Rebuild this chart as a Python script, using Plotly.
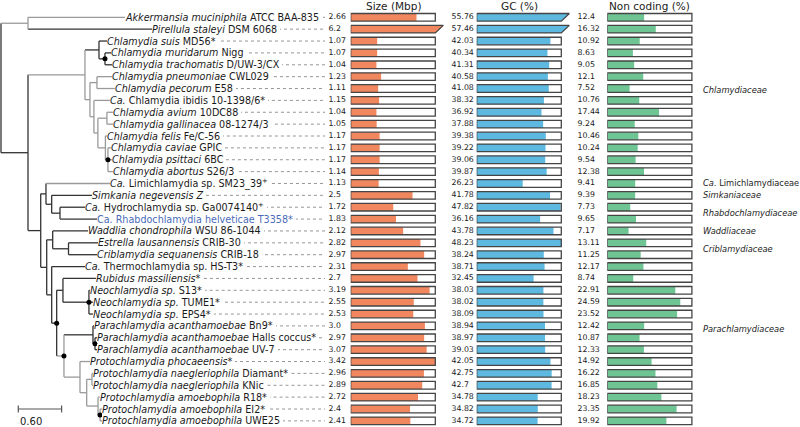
import plotly.graph_objects as go

# ---------------- data ----------------
LEAF_IDS = ["akk", "pir", "suis", "muri", "trac", "pneu", "peco", "ibid", "aviu", "gall",
            "feli", "cavi", "psit", "abor", "limi", "simk", "hydr", "rhab", "wadd", "estr",
            "crib", "ther", "rubi", "s13", "tume", "eps4", "bn9", "hall", "uv7", "phoc",
            "diam", "knic", "r18", "ei2", "uwe"]

LABELS = [
    "<i>Akkermansia muciniphila</i> ATCC BAA-835",
    "<i>Pirellula staleyi</i> DSM 6068",
    "<i>Chlamydia suis</i> MD56*",
    "<i>Chlamydia muridarum</i> Nigg",
    "<i>Chlamydia trachomatis</i> D/UW-3/CX",
    "<i>Chlamydia pneumoniae</i> CWL029",
    "<i>Chlamydia pecorum</i> E58",
    "<i>Ca.</i> Chlamydia ibidis 10-1398/6*",
    "<i>Chlamydia avium</i> 10DC88",
    "<i>Chlamydia gallinacea</i> 08-1274/3",
    "<i>Chlamydia felis</i> Fe/C-56",
    "<i>Chlamydia caviae</i> GPIC",
    "<i>Chlamydia psittaci</i> 6BC",
    "<i>Chlamydia abortus</i> S26/3",
    "<i>Ca.</i> Limichlamydia sp. SM23_39<sup>+</sup>",
    "<i>Simkania negevensis Z</i>",
    "<i>Ca.</i> Hydrochlamydia sp. Ga0074140<sup>+</sup>",
    "Ca. Rhabdochlamydia helveticae T3358*",
    "<i>Waddlia chondrophila</i> WSU 86-1044",
    "<i>Estrella lausannensis</i> CRIB-30",
    "<i>Criblamydia sequanensis</i> CRIB-18",
    "<i>Ca.</i> Thermochlamydia sp. HS-T3*",
    "<i>Rubidus massiliensis</i>*",
    "<i>Neochlamydia sp.</i> S13*",
    "<i>Neochlamydia sp.</i> TUME1*",
    "<i>Neochlamydia sp.</i> EPS4*",
    "<i>Parachlamydia acanthamoebae</i> Bn9*",
    "<i>Parachlamydia acanthamoebae</i> Halls coccus*",
    "<i>Parachlamydia acanthamoebae</i> UV-7",
    "<i>Protochlamydia phocaeensis</i>*",
    "<i>Protochlamydia naegleriophila</i> Diamant*",
    "<i>Protochlamydia naegleriophila</i> KNic",
    "<i>Protochlamydia amoebophila</i> R18*",
    "<i>Protochlamydia amoebophila</i> EI2*",
    "<i>Protochlamydia amoebophila</i> UWE25",
]
HIGHLIGHT = ["rhab"]

SIZE = [2.66, 6.2, 1.07, 1.07, 1.04, 1.23, 1.11, 1.15, 1.04, 1.05, 1.17, 1.17, 1.17, 1.14,
        1.13, 2.5, 1.72, 1.83, 2.12, 2.82, 2.97, 2.31, 2.7, 3.19, 2.55, 2.53, 3.0, 2.97,
        3.07, 3.42, 2.96, 2.89, 2.72, 2.4, 2.41]
GC = [55.76, 57.46, 42.03, 40.34, 41.31, 40.58, 41.08, 38.32, 36.92, 37.88, 39.38, 39.22,
      39.06, 39.87, 26.23, 41.78, 47.82, 36.16, 43.78, 48.23, 38.24, 38.71, 32.45, 38.03,
      38.02, 38.09, 38.94, 38.97, 39.03, 42.05, 42.75, 42.7, 34.78, 34.82, 34.72]
NONCODING = [12.4, 16.32, 10.92, 8.63, 9.05, 12.1, 7.52, 10.76, 17.44, 9.24, 10.46, 10.24,
             9.54, 12.38, 9.41, 9.39, 7.73, 9.65, 7.17, 13.11, 11.25, 12.17, 8.74, 22.91,
             24.59, 23.52, 12.42, 10.87, 12.33, 14.92, 16.22, 16.85, 18.23, 23.35, 19.92]

COLUMN_TITLES = ["Size (Mbp)", "GC (%)", "Non coding (%)"]
COLUMN_MAX = [3.42, 48.23, 28.5]

# phylogeny (branch lengths in substitutions/site)
NEWICK = ("((akk:1.343,pir:1.717)A:0.374,"
          "(((suis:0.111,(muri:0.083,trac:0.097)Na2:0.083)Na:0.194,"
          "((pneu:0.208,peco:0.249)Npp:0.097,(ibid:0.222,((aviu:0.083,gall:0.083)Nag:0.125,"
          "(feli:0.021,(cavi:0.042,psit:0.055,abor:0.069)Ncpa:0.035)Nf:0.104)Nd:0.055)Nc:0.055)Nb:0.069)Ch:0.789,"
          "((limi:0.886,(simk:0.558,(hydr:0.346,rhab:0.512)E3:0.115)E2:0.079)E:0.073,"
          "((wadd:0.489,(estr:0.409,crib:0.395)WC:0.219)W:0.083,"
          "(ther:0.461,((rubi:0.457,(s13:0.010,tume:0.055,eps4:0.055)Neo:0.360)RN:0.087,"
          "((bn9:0.014,(hall:0.028,uv7:0.028)PA2:0.028)PA:0.402,"
          "(phoc:0.139,((diam:0.021,knic:0.021)PN:0.073,(r18:0.021,(ei2:0.028,uwe:0.028)PAm2:0.028)PAm:0.157)PR2:0.093)PR:0.222)P1:0.101)P0:0.069)H:0.069)G:0.083)D:0.176)B:0.374)root;")
SUPPORTED_NODES = ["Na2", "Ncpa", "Neo", "P0", "P1", "PA2", "PAm2"]
GRAY_NODES = ["A", "akk", "Ch", "Nb", "Npp", "pneu", "peco", "Nc", "ibid", "Nd", "Nag", "aviu",
              "gall", "Nf", "feli", "Ncpa", "cavi", "psit", "abor", "limi", "P1", "PR", "phoc",
              "PR2", "PN", "diam", "knic", "PAm", "r18", "PAm2", "ei2", "uwe"]
SCALE_LENGTH = 0.60

FAMILIES = ["<i>Chlamydiaceae</i>", "<i>Ca.</i> Limichlamydiaceae", "<i>Simkaniaceae</i>",
            "<i>Rhabdochlamydiaceae</i>", "<i>Waddliaceae</i>", "<i>Criblamydiaceae</i>",
            "<i>Parachlamydiaceae</i>"]
FAMILY_FIRST = ["suis", "limi", "simk", "hydr", "wadd", "estr", "ther"]
FAMILY_LAST = ["abor", "limi", "simk", "rhab", "wadd", "crib", "uwe"]
FAMILY_LABEL_SHIFT = [-1.4, 0, 0, 0, 0, 0, -1.2]

# ---------------- styling / geometry ----------------
FONT = "DejaVu Sans"
W, H = 800, 427
PX_PER_UNIT = 72.2
ROOT_PX = 1.0
ROW0_PX, ROW_PX = 17.3, 11.87
BOX_W_PX = 84.6
BOX_LEFT_PX = [350.7, 476.7, 607.3]
VALUE_TEXT_PX = [328.5, 451.5, 577.5]
TITLE_Y_PX = 6
LEADER_END_PX = 325
BAR_COLORS = ["#F0875F", "#5DB9E0", "#6FC493"]
OUTLINE = "#454545"
DARK, GRAY = "#333333", "#9a9a9a"


def px_to_u(px):
    return (px - ROOT_PX) / PX_PER_UNIT


def parse_newick(s):
    pos = 0

    def node():
        nonlocal pos
        children = []
        if s[pos] == "(":
            pos += 1
            while True:
                children.append(node())
                if s[pos] == ",":
                    pos += 1
                    continue
                pos += 1  # ')'
                break
        start = pos
        while pos < len(s) and s[pos] not in ":,();":
            pos += 1
        name = s[start:pos]
        bl = 0.0
        if pos < len(s) and s[pos] == ":":
            pos += 1
            start = pos
            while s[pos] not in ",();":
                pos += 1
            bl = float(s[start:pos])
        return {"name": name, "bl": bl, "children": children}

    return node()


tree = parse_newick(NEWICK)
row_of = {lid: i for i, lid in enumerate(LEAF_IDS)}


def layout_tree(n, x0):
    n["x"] = x0 + n["bl"] if n["name"] != "root" else 0.0
    if n["children"]:
        for c in n["children"]:
            layout_tree(c, n["x"])
        n["y"] = (n["children"][0]["y"] + n["children"][-1]["y"]) / 2
    else:
        n["y"] = row_of[n["name"]]


layout_tree(tree, 0.0)

seg = {DARK: ([], []), GRAY: ([], [])}
dots_x, dots_y = [], []
tips = {}


def walk(n, parent):
    col = GRAY if n["name"] in GRAY_NODES else DARK
    xs, ys = seg[col]
    xs += [parent["x"], n["x"], None]
    ys += [n["y"], n["y"], None]
    if n["children"]:
        xs += [n["x"], n["x"], None]
        ys += [n["children"][0]["y"], n["children"][-1]["y"], None]
        if n["name"] in SUPPORTED_NODES:
            dots_x.append(n["x"])
            dots_y.append(n["y"])
        for c in n["children"]:
            walk(c, n)
    else:
        tips[n["name"]] = n["x"]


xs, ys = seg[DARK]
xs += [tree["x"], tree["x"], None]
ys += [tree["children"][0]["y"], tree["children"][-1]["y"], None]
for c in tree["children"]:
    walk(c, tree)

fig = go.Figure()
rows = list(range(len(LEAF_IDS)))

# leader dotted lines
lx, ly = [], []
for lid in LEAF_IDS:
    lx += [tips[lid], px_to_u(LEADER_END_PX), None]
    ly += [row_of[lid], row_of[lid], None]
fig.add_trace(go.Scatter(x=lx, y=ly, mode="lines", line=dict(color="#8a8a8a", width=0.9, dash="dot"),
                         hoverinfo="skip", showlegend=False))

for col, (xs, ys) in seg.items():
    fig.add_trace(go.Scatter(x=xs, y=ys, mode="lines", line=dict(color=col, width=1.3),
                             hoverinfo="skip", showlegend=False))
fig.add_trace(go.Scatter(x=dots_x, y=dots_y, mode="markers", marker=dict(color="black", size=5),
                         hoverinfo="skip", showlegend=False))

# value bars
BAR_W = 0.64
for k, (vals, vmax, color) in enumerate(zip([SIZE, GC, NONCODING], COLUMN_MAX, BAR_COLORS)):
    xa = "x%d" % (k + 2)
    inside = [v if v <= vmax else None for v in vals]
    fig.add_trace(go.Bar(x=inside, y=rows, orientation="h", width=BAR_W, base=0,
                         marker=dict(color=color, line=dict(width=0)),
                         xaxis=xa, yaxis="y", hoverinfo="skip", showlegend=False))
    fig.add_trace(go.Bar(x=[vmax if v <= vmax else None for v in vals], y=rows, orientation="h",
                         width=BAR_W, base=0,
                         marker=dict(color="rgba(0,0,0,0)", line=dict(color=OUTLINE, width=1.3)),
                         xaxis=xa, yaxis="y", hoverinfo="skip", showlegend=False))
    slant = 8.0 / BOX_W_PX * vmax
    px_, py_ = [], []
    for i, v in enumerate(vals):
        if v > vmax:
            t, b = i - BAR_W / 2, i + BAR_W / 2
            px_ += [0, vmax + slant, vmax, 0, 0, None]
            py_ += [t, t, b, b, t, None]
    if px_:
        fig.add_trace(go.Scatter(x=px_, y=py_, mode="lines", fill="toself", fillcolor=color,
                                 line=dict(color=OUTLINE, width=1.3), xaxis=xa, yaxis="y",
                                 hoverinfo="skip", showlegend=False))
    fig.add_trace(go.Scatter(x=[px_to_u(VALUE_TEXT_PX[k])] * len(vals), y=rows, mode="text",
                             text=[str(v) for v in vals], textposition="middle right",
                             textfont=dict(family=FONT, size=7.8, color="#222"),
                             hoverinfo="skip", showlegend=False))

# family brackets
bx, by = [], []
for a, b in zip(FAMILY_FIRST, FAMILY_LAST):
    bx += [px_to_u(697), px_to_u(697), None]
    by += [row_of[a] - 0.32, row_of[b] + 0.32, None]
fig.add_trace(go.Scatter(x=bx, y=by, mode="lines", line=dict(color="black", width=1.6),
                         hoverinfo="skip", showlegend=False))

# scale bar
sx0 = px_to_u(18.3)
sy = (409 - ROW0_PX) / ROW_PX
fig.add_trace(go.Scatter(x=[sx0, sx0, None, sx0, sx0 + SCALE_LENGTH, None, sx0 + SCALE_LENGTH, sx0 + SCALE_LENGTH],
                         y=[sy - 0.3, sy + 0.3, None, sy, sy, None, sy - 0.3, sy + 0.3],
                         mode="lines", line=dict(color="#555", width=1.2),
                         hoverinfo="skip", showlegend=False))

annotations = []
# layer 1: white backing boxes that mask the dotted leaders under each label
for lid, lab in zip(LEAF_IDS, LABELS):
    annotations.append(dict(
        x=tips[lid], y=row_of[lid], xref="x", yref="y", xanchor="left", yanchor="middle",
        text=lab + "\u00a0", showarrow=False, bgcolor="white", borderpad=0, borderwidth=0,
        font=dict(family=FONT, size=9.6, color="rgba(255,255,255,0)")))
# layer 2: the label texts themselves
for lid, lab in zip(LEAF_IDS, LABELS):
    annotations.append(dict(
        x=tips[lid], y=row_of[lid], xref="x", yref="y", xanchor="left", yanchor="middle",
        text=lab + "\u00a0", showarrow=False, borderpad=0, borderwidth=0,
        font=dict(family=FONT, size=9.6, color="#4a6cb8" if lid in HIGHLIGHT else "#1a1a1a")))

for k, t in enumerate(COLUMN_TITLES):
    annotations.append(dict(x=(BOX_LEFT_PX[k] + BOX_W_PX / 2) / W, y=1 - TITLE_Y_PX / H,
                            xref="paper", yref="paper", xanchor="center", yanchor="middle",
                            text=t, showarrow=False, font=dict(family=FONT, size=10.5, color="#222")))

for f, a, b, sh in zip(FAMILIES, FAMILY_FIRST, FAMILY_LAST, FAMILY_LABEL_SHIFT):
    annotations.append(dict(x=px_to_u(700.5), y=(row_of[a] + row_of[b]) / 2 + sh, xref="x", yref="y",
                            xanchor="left", yanchor="middle", text=f,
                            showarrow=False, font=dict(family=FONT, size=8.3, color="#222")))

annotations.append(dict(x=sx0, y=(421 - ROW0_PX) / ROW_PX, xref="x", yref="y", xanchor="left",
                        yanchor="middle", text="%.2f" % SCALE_LENGTH, showarrow=False,
                        font=dict(family=FONT, size=10, color="#222")))

y_top = -ROW0_PX / ROW_PX
y_bot = (H - ROW0_PX) / ROW_PX

layout_axes = {}
for k in range(3):
    left = BOX_LEFT_PX[k]
    layout_axes["xaxis%d" % (k + 2)] = dict(domain=[left / W, (left + 100) / W],
                                           range=[0, COLUMN_MAX[k] * 100 / BOX_W_PX],
                                           visible=False, anchor="y", fixedrange=True)

fig.update_layout(
    width=W, height=H, margin=dict(l=0, r=0, t=0, b=0),
    paper_bgcolor="white", plot_bgcolor="white",
    barmode="overlay", showlegend=False,
    xaxis=dict(domain=[0, 1], range=[px_to_u(0), px_to_u(W)], visible=False, fixedrange=True),
    yaxis=dict(domain=[0, 1], range=[y_bot, y_top], visible=False, fixedrange=True),
    annotations=annotations,
    **layout_axes,
)

fig.write_html("out.html",
               config={"displayModeBar": False, "staticPlot": True},
               post_script="document.body.style.margin='0';document.body.style.padding='0';"
                           "document.documentElement.style.overflow='hidden';")
